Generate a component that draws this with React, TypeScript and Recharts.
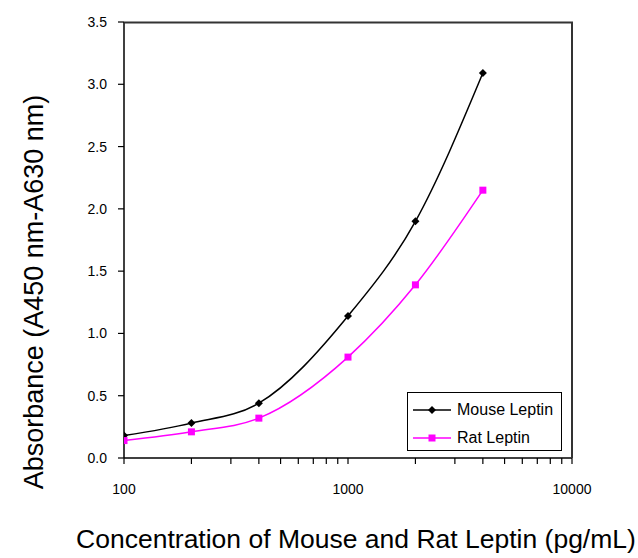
import { LineChart, Line, XAxis, YAxis } from 'recharts';

const FONT = '"Liberation Sans", Arial, sans-serif';

// concentrations in pg/mL
const concentrations = [100, 200, 400, 1000, 2000, 4000];
const mouseLeptin = [0.18, 0.28, 0.44, 1.14, 1.9, 3.09];
const ratLeptin = [0.14, 0.21, 0.32, 0.81, 1.39, 2.15];

const yTicks = [0, 0.5, 1.0, 1.5, 2.0, 2.5, 3.0, 3.5];
const xMajorTicks = [100, 1000, 10000];
const xMinorTicks = [200, 300, 400, 500, 600, 700, 800, 900, 2000, 3000, 4000, 5000, 6000, 7000, 8000, 9000];

const mouseData = concentrations.map((c, i) => ({ conc: c, abs: mouseLeptin[i] }));
const ratData = concentrations.map((c, i) => ({ conc: c, abs: ratLeptin[i] }));

const series = [
  { name: 'Mouse Leptin', color: '#000000', marker: 'diamond' },
  { name: 'Rat Leptin', color: '#FF00FF', marker: 'square' }
];

function Marker({ cx, cy, kind, color }: any) {
  if (cx == null || cy == null) return <g />;
  if (kind === 'diamond') {
    const r = 4;
    return <polygon points={`${cx},${cy - r} ${cx + r},${cy} ${cx},${cy + r} ${cx - r},${cy}`} fill={color} />;
  }
  return <rect x={cx - 3.5} y={cy - 3.5} width={7} height={7} fill={color} />;
}

function XTick(props: any) {
  const { x, y, payload } = props;
  if (!xMajorTicks.includes(payload.value)) return <g />;
  return (
    <text x={x} y={y} dy="0.71em" textAnchor="middle" fontSize={14} fill="#000" fontFamily={FONT}>
      {payload.value}
    </text>
  );
}

function XTitle() {
  return (
    <text x={356} y={548} textAnchor="middle" fontSize={26.5} fill="#000" fontFamily={FONT}>
      Concentration of Mouse and Rat Leptin (pg/mL)
    </text>
  );
}

function YTitle() {
  return (
    <text x={0} y={0} transform="translate(43, 292) rotate(-90)" textAnchor="middle" fontSize={27} fill="#000" fontFamily={FONT}>
      Absorbance (A450 nm-A630 nm)
    </text>
  );
}

export default function App() {
  return (
    <div style={{ position: 'absolute', left: 0, top: 0, width: 638, height: 558, background: '#fff' }}>
      <LineChart width={638} height={558} margin={{ top: 22, right: 66, left: 0, bottom: 0 }}>
        <XAxis
          dataKey="conc"
          type="number"
          scale="log"
          domain={[100, 10000]}
          allowDataOverflow
          ticks={[...xMajorTicks, ...xMinorTicks].sort((a, b) => a - b)}
          interval={0}
          height={100}
          tickSize={6}
          tickMargin={20}
          tick={<XTick />}
          axisLine={{ stroke: '#000', strokeWidth: 1.5 }}
          tickLine={{ stroke: '#000', strokeWidth: 1.2 }}
          label={<XTitle />}
        />
        <YAxis
          type="number"
          domain={[0, 3.5]}
          ticks={yTicks}
          interval={0}
          width={124}
          tickSize={6}
          tickMargin={11}
          tickFormatter={(v: number) => v.toFixed(1)}
          tick={{ fill: '#000', fontSize: 14, fontFamily: FONT }}
          axisLine={{ stroke: '#000', strokeWidth: 1.5 }}
          tickLine={{ stroke: '#000', strokeWidth: 1.2 }}
          label={<YTitle />}
        />
        <Line
          data={mouseData}
          dataKey="abs"
          name="Mouse Leptin"
          type="monotone"
          stroke="#000000"
          strokeWidth={1.5}
          dot={(p: any) => <Marker key={`m-${p.index}`} cx={p.cx} cy={p.cy} kind="diamond" color="#000000" />}
          isAnimationActive={false}
        />
        <Line
          data={ratData}
          dataKey="abs"
          name="Rat Leptin"
          type="monotone"
          stroke="#FF00FF"
          strokeWidth={1.5}
          dot={(p: any) => <Marker key={`r-${p.index}`} cx={p.cx} cy={p.cy} kind="square" color="#FF00FF" />}
          isAnimationActive={false}
        />
      </LineChart>
      {/* plot frame: top and right edges */}
      <svg width={638} height={558} style={{ position: 'absolute', left: 0, top: 0, pointerEvents: 'none' }}>
        <polyline points="124,22.5 572,22.5 572,458" fill="none" stroke="#333333" strokeWidth={2} />
      </svg>
      {/* legend box */}
      <div
        style={{
          position: 'absolute', left: 407, top: 392, width: 155, height: 59, boxSizing: 'border-box',
          border: '1.5px solid #000', background: '#fff', fontFamily: FONT, fontSize: 16, paddingTop: 6
        }}
      >
        {series.map((s) => (
          <div key={s.name} style={{ display: 'flex', alignItems: 'center', height: 22, marginBottom: 6 }}>
            <svg width={44} height={12} style={{ marginLeft: 5 }}>
              <line x1={0} y1={6} x2={38} y2={6} stroke={s.color} strokeWidth={1.5} />
              <Marker cx={19} cy={6} kind={s.marker} color={s.color} />
            </svg>
            <span style={{ color: '#000' }}>{s.name}</span>
          </div>
        ))}
      </div>
    </div>
  );
}
